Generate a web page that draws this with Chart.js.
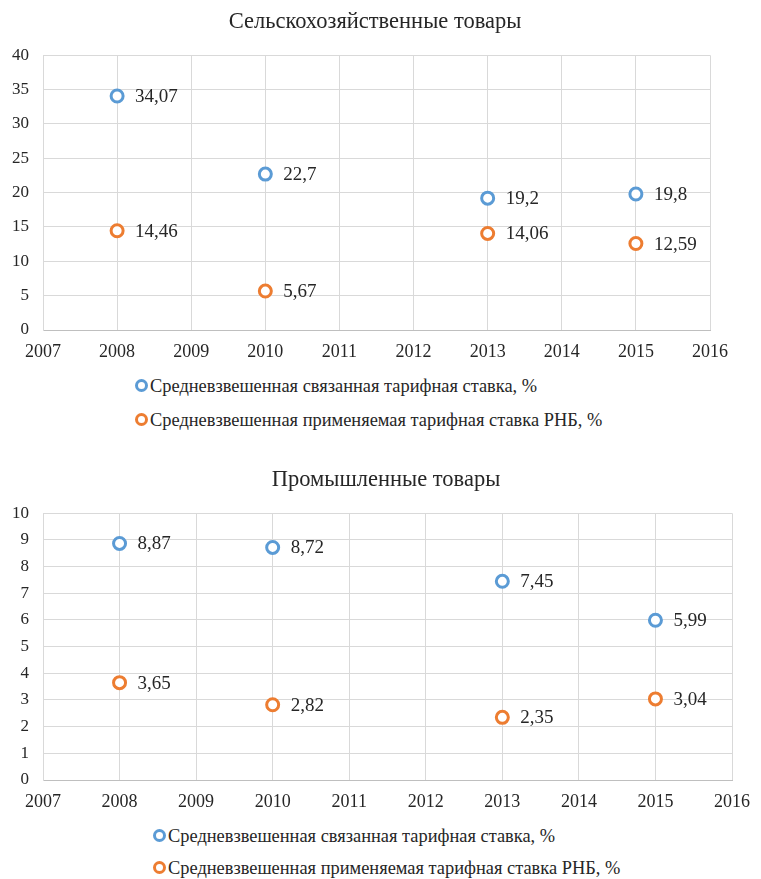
<!DOCTYPE html>
<html>
<head>
<meta charset="utf-8">
<script src="https://cdn.jsdelivr.net/npm/chart.js@4"></script>
<style>
  body { margin: 0; background: #fff; font-family: "Liberation Serif", "Times New Roman", serif; }
  .box { position: relative; width: 761px; }
  .legend { position: relative; width: 761px; color: #262626; font-size: 18.4px; }
  .legend div { position: absolute; white-space: nowrap; line-height: 20px; }
  .legend span { display: inline-block; width: 7px; height: 7px; border-radius: 50%; border: 3px solid; margin-right: 2px; vertical-align: 0px; }
</style>
</head>
<body>
<div class="box" style="height:370px"><canvas id="agriChart"></canvas></div>
<div class="legend" style="height:85px">
  <div style="left:135px; top:6px"><span style="border-color:#5B9BD5"></span>Средневзвешенная связанная тарифная ставка, %</div>
  <div style="left:135px; top:40px"><span style="border-color:#ED7D31"></span>Средневзвешенная применяемая тарифная ставка РНБ, %</div>
</div>
<div class="box" style="height:365px"><canvas id="indChart"></canvas></div>
<div class="legend" style="height:59px">
  <div style="left:153px; top:6px"><span style="border-color:#5B9BD5"></span>Средневзвешенная связанная тарифная ставка, %</div>
  <div style="left:153px; top:38px"><span style="border-color:#ED7D31"></span>Средневзвешенная применяемая тарифная ставка РНБ, %</div>
</div>
<script>
const years = [2008, 2010, 2013, 2015];

const agriBound = [34.07, 22.7, 19.2, 19.8];
const agriApplied = [14.46, 5.67, 14.06, 12.59];

const indBound = [8.87, 8.72, 7.45, 5.99];
const indApplied = [3.65, 2.82, 2.35, 3.04];

const seriesNames = [
    "Средневзвешенная связанная тарифная ставка, %",
    "Средневзвешенная применяемая тарифная ставка РНБ, %"
];

const blue = "#5B9BD5";
const orange = "#ED7D31";
const textColor = "#262626";
const font = "'Liberation Serif', 'Times New Roman', serif";

function toPoints(values) {
    return years.map((y, i) => ({ x: y, y: values[i] }));
}

// value labels to the right of each marker
const valueLabels = {
    id: "valueLabels",
    afterDatasetsDraw(chart) {
        let ctx = chart.ctx;
        ctx.save();
        ctx.font = "19px " + font;
        ctx.fillStyle = textColor;
        ctx.textBaseline = "middle";
        ctx.textAlign = "left";
        chart.data.datasets.forEach((ds, i) => {
            chart.getDatasetMeta(i).data.forEach((pt, j) => {
                let label = String(ds.data[j].y).replace(".", ",");
                ctx.fillText(label, pt.x + 18, pt.y + 1);
            });
        });
        ctx.restore();
    }
};

// move the title so it is centred where the original has it
function titleShift(center) {
    return {
        id: "titleShift",
        afterLayout(chart) {
            let t = chart.titleBlock;
            if (t) { t.left = center - 300; t.right = center + 300; }
        }
    };
}

function makeChart(id, title, bound, applied, yMax, yStep, rightPad, titleTop, titleCenter) {
    return new Chart(document.getElementById(id), {
        type: "scatter",
        data: {
            datasets: [{
                label: seriesNames[0],
                data: toPoints(bound),
                borderColor: blue,
                backgroundColor: "#fff",
                pointRadius: 6,
                pointHoverRadius: 6,
                borderWidth: 3
            }, {
                label: seriesNames[1],
                data: toPoints(applied),
                borderColor: orange,
                backgroundColor: "#fff",
                pointRadius: 6,
                pointHoverRadius: 6,
                borderWidth: 3
            }]
        },
        options: {
            responsive: true,
            maintainAspectRatio: false,
            animation: false,
            layout: { padding: { left: 0, right: rightPad, top: 0, bottom: 0 } },
            plugins: {
                legend: { display: false },
                tooltip: { enabled: false },
                title: {
                    display: true,
                    text: title,
                    color: textColor,
                    font: { family: font, size: 22.5, weight: "normal" },
                    padding: { top: titleTop, bottom: 19.3 }
                }
            },
            scales: {
                x: {
                    type: "linear",
                    min: 2007,
                    max: 2016,
                    ticks: {
                        stepSize: 1,
                        color: textColor,
                        padding: 11,
                        font: { family: font, size: 18 },
                        callback: v => String(v)
                    },
                    grid: { color: "#d9d9d9", drawTicks: false },
                    border: { color: "#bfbfbf" },
                    afterFit: s => { s.height = 40; }
                },
                y: {
                    min: 0,
                    max: yMax,
                    ticks: {
                        stepSize: yStep,
                        color: textColor,
                        padding: 14,
                        font: { family: font, size: 17 }
                    },
                    grid: { color: "#d9d9d9", drawTicks: false },
                    border: { color: "#d9d9d9" },
                    afterFit: s => { s.width = 43; }
                }
            }
        },
        plugins: [valueLabels, titleShift(titleCenter)]
    });
}

makeChart("agriChart", "Сельскохозяйственные товары", agriBound, agriApplied, 40, 5, 51, 9, 375);
makeChart("indChart", "Промышленные товары", indBound, indApplied, 10, 1, 21, 12, 386);
</script>
</body>
</html>
